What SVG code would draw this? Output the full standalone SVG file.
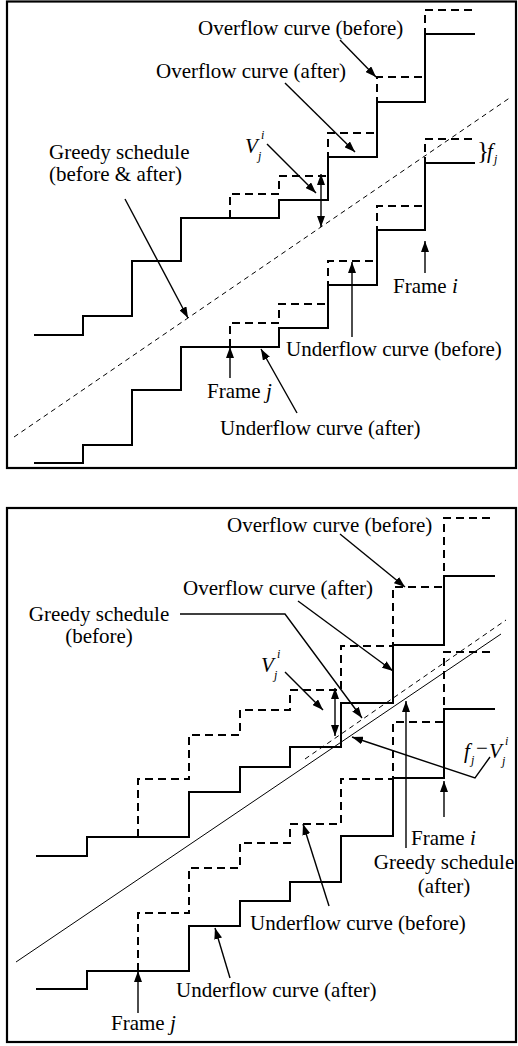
<svg xmlns="http://www.w3.org/2000/svg" width="518" height="1046" viewBox="0 0 518 1046">
<style>
.frame{fill:none;stroke:#000;stroke-width:2.2}
.step{fill:none;stroke:#000;stroke-width:2}
.dstep{fill:none;stroke:#000;stroke-width:2;stroke-dasharray:8 5}
.greedy{fill:none;stroke:#000;stroke-width:1}
.dgreedy{fill:none;stroke:#000;stroke-width:1;stroke-dasharray:5 4}
.lead{fill:none;stroke:#000;stroke-width:1.4}
.arr{marker-end:url(#ah)}
.dbl{marker-end:url(#ah);marker-start:url(#ahs)}
text{font-family:"Liberation Serif","Times New Roman",serif;font-size:21px;fill:#000}
.it{font-style:italic}
.sm{font-size:12px;font-style:italic}
</style>
<defs>
<marker id="ah" markerUnits="userSpaceOnUse" markerWidth="12" markerHeight="8" refX="11" refY="4" orient="auto"><path d="M0,0 L11,4 L0,8 z" fill="#000"/></marker>
<marker id="ahs" markerUnits="userSpaceOnUse" markerWidth="12" markerHeight="8" refX="11" refY="4" orient="auto-start-reverse"><path d="M0,0 L11,4 L0,8 z" fill="#000"/></marker>
</defs>
<rect class="frame" x="7" y="1.5" width="509" height="466.5"/>
<rect class="frame" x="7" y="508" width="509" height="534"/>
<g id="top-curves">
<polyline id="top-overflow-after" class="step" points="34,335 83,335 83,316 132,316 132,261 181,261 181,218 279,218 279,200 328,200 328,157 377,157 377,102 425,102 425,34 475,34"/>
<polyline id="top-overflow-before" class="dstep" points="230,218 230,194 279,194 279,176 328,176 328,133 377,133 377,77 425,77 425,10 475,10"/>
<polyline id="top-underflow-after" class="step" points="34,463 83,463 83,445 132,445 132,390 181,390 181,347 279,347 279,328 328,328 328,285 377,285 377,230 425,230 425,163 475,163"/>
<polyline id="top-underflow-before" class="dstep" points="230,347 230,323 279,323 279,304 328,304 328,261 377,261 377,206 425,206 425,139 475,139"/>
<line id="top-greedy" class="dgreedy" x1="14" y1="437" x2="511" y2="97"/>
</g>
<g id="bottom-curves">
<polyline id="bot-overflow-after" class="step" points="36,856 87,856 87,837 189,837 189,792 240,792 240,767 290,767 290,747 341,747 341,703 393,703 393,645 444,645 444,576 495,576"/>
<polyline id="bot-overflow-before" class="dstep" points="138,837 138,779 189,779 189,735 240,735 240,710 290,710 290,690 341,690 341,646 393,646 393,587 444,587 444,518 495,518"/>
<polyline id="bot-underflow-after" class="step" points="36,989 87,989 87,971 189,971 189,926 240,926 240,901 290,901 290,882 341,882 341,836 393,836 393,778 444,778 444,709 495,709"/>
<polyline id="bot-underflow-before" class="dstep" points="138,971 138,913 189,913 189,868 240,868 240,843 290,843 290,824 341,824 341,779 393,779 393,722 444,722 444,652 495,652"/>
<line id="bot-greedy-after" class="greedy" x1="16" y1="962" x2="501" y2="634"/>
<line id="bot-greedy-before" class="dgreedy" x1="305" y1="759" x2="506" y2="620"/>
</g>
<g id="connectors">
<line class="lead arr" x1="340" y1="40" x2="376" y2="77"/>
<line class="lead arr" x1="285" y1="83" x2="355" y2="152"/>
<line class="lead arr" x1="267" y1="144" x2="316" y2="193"/>
<line class="lead dbl" x1="321" y1="174" x2="321" y2="227"/>
<line class="lead arr" x1="125" y1="199" x2="188" y2="318"/>
<line class="lead arr" x1="425" y1="273" x2="425" y2="241"/>
<line class="lead arr" x1="352" y1="337" x2="352" y2="262"/>
<line class="lead arr" x1="230" y1="378" x2="230" y2="347"/>
<line class="lead arr" x1="297" y1="413" x2="261" y2="349"/>
<line class="lead arr" x1="340" y1="534" x2="405" y2="587"/>
<line class="lead arr" x1="298" y1="601" x2="393" y2="671"/>
<polyline class="lead arr" points="180,614 285,614 362,718"/>
<line class="lead arr" x1="285" y1="672" x2="323" y2="710"/>
<line class="lead dbl" x1="335" y1="688" x2="335" y2="736"/>
<polyline class="lead arr" points="490,757 475,778 352,737"/>
<line class="lead arr" x1="406" y1="848" x2="406" y2="701"/>
<line class="lead arr" x1="444" y1="817" x2="444" y2="781"/>
<line class="lead arr" x1="329" y1="906" x2="303" y2="824"/>
<line class="lead arr" x1="230" y1="978" x2="215" y2="928"/>
<line class="lead arr" x1="138" y1="1013" x2="138" y2="971"/>
</g>
<g id="top-labels">
<text x="198" y="35">Overflow curve (before)</text>
<text x="156" y="78">Overflow curve (after)</text>
<text x="49" y="159">Greedy schedule</text>
<text x="49" y="181">(before &amp; after)</text>
<text class="it" x="245" y="153">V</text><text class="sm" x="258" y="160">j</text><text class="sm" x="261" y="139">i</text>
<text x="477" y="159" style="font-size:25px">}</text><text class="it" x="487" y="158">f</text><text class="sm" x="494" y="163">j</text>
<text x="393" y="293">Frame <tspan class="it">i</tspan></text>
<text x="286" y="356">Underflow curve (before)</text>
<text x="207" y="398">Frame <tspan class="it">j</tspan></text>
<text x="220" y="435">Underflow curve (after)</text>
</g>
<g id="bottom-labels">
<text x="227" y="532">Overflow curve (before)</text>
<text x="183" y="595">Overflow curve (after)</text>
<text x="99" y="621" text-anchor="middle">Greedy schedule</text>
<text x="99" y="643" text-anchor="middle">(before)</text>
<text class="it" x="261" y="672">V</text><text class="sm" x="274" y="679">j</text><text class="sm" x="277" y="658">i</text>
<text class="it" x="464" y="758">f</text><text class="sm" x="471" y="764">j</text><text x="476" y="755">−</text><text class="it" x="489" y="758">V</text><text class="sm" x="502" y="765">j</text><text class="sm" x="505" y="745">i</text>
<text x="411" y="845">Frame <tspan class="it">i</tspan></text>
<text x="444" y="869" text-anchor="middle">Greedy schedule</text>
<text x="444" y="893" text-anchor="middle">(after)</text>
<text x="250" y="930">Underflow curve (before)</text>
<text x="176" y="997">Underflow curve (after)</text>
<text x="111" y="1030">Frame <tspan class="it">j</tspan></text>
</g>
</svg>
